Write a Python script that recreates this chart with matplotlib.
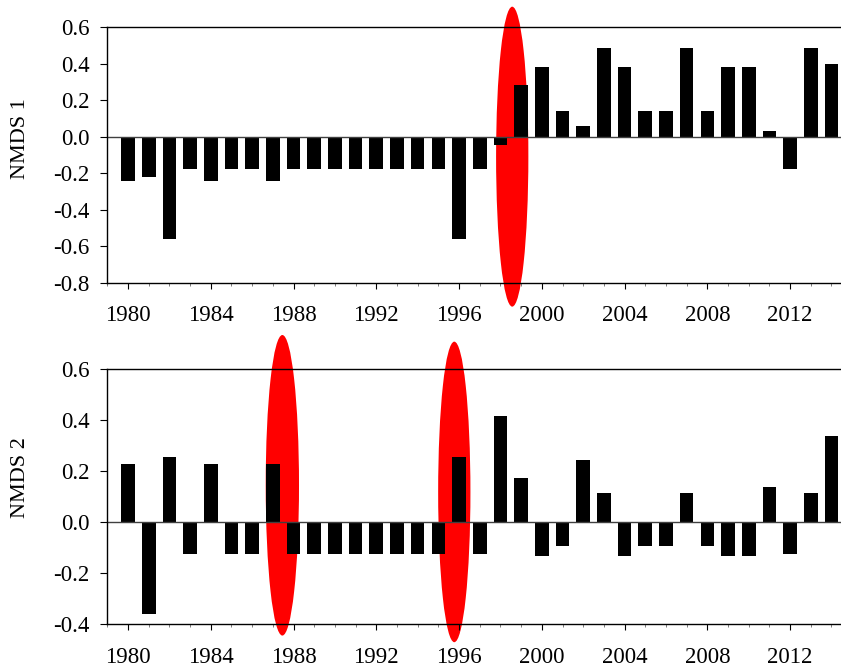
import matplotlib
matplotlib.use("Agg")
import matplotlib.pyplot as plt
import matplotlib.ticker as ticker
from matplotlib.patches import Ellipse
import numpy as np

plt.rcParams['font.family'] = ['Liberation Serif', 'DejaVu Serif']
plt.rcParams['axes.unicode_minus'] = False

years = list(range(1980, 2015))

# NMDS axis 1 scores
nmds1 = [-0.24, -0.22, -0.56, -0.175, -0.24, -0.175, -0.175, -0.24,
         -0.175, -0.175, -0.175, -0.175, -0.175, -0.175, -0.175, -0.175,
         -0.56, -0.175, -0.047, 0.284, 0.381, 0.139, 0.058, 0.483,
         0.381, 0.139, 0.139, 0.483, 0.139, 0.381, 0.381, 0.031,
         -0.175, 0.483, 0.399]

# NMDS axis 2 scores
nmds2 = [0.227, -0.361, 0.253, -0.125, 0.227, -0.125, -0.125, 0.227,
         -0.125, -0.125, -0.125, -0.125, -0.125, -0.125, -0.125, -0.125,
         0.253, -0.125, 0.417, 0.173, -0.132, -0.093, 0.243, 0.112,
         -0.132, -0.093, -0.093, 0.112, -0.093, -0.132, -0.132, 0.137,
         -0.125, 0.112, 0.336]

xticks = [1980, 1984, 1988, 1992, 1996, 2000, 2004, 2008, 2012]
yticks1 = [-0.8, -0.6, -0.4, -0.2, 0.0, 0.2, 0.4, 0.6]
yticks2 = [-0.4, -0.2, 0.0, 0.2, 0.4, 0.6]

# red highlight ellipses: (year, y centre, width in years, height in data units)
marks1 = [(1998.57, -0.109, 1.56, 1.64)]
marks2 = [(1987.46, 0.144, 1.61, 1.176), (1995.77, 0.118, 1.56, 1.176)]


def style_axis(ax, yticks, ylabel, label_y):
    ax.set_xlim(1979, 2014.46)
    ax.set_ylim(yticks[0], yticks[-1])
    ax.set_xticks(xticks)
    ax.xaxis.set_minor_locator(ticker.MultipleLocator(1))
    ax.set_yticks(yticks)
    ax.yaxis.set_major_formatter(ticker.FormatStrFormatter('%.1f'))
    ax.tick_params(axis='x', which='major', direction='out', length=4,
                   width=0.8, pad=12, labelsize=16.5)
    ax.tick_params(axis='x', which='minor', direction='out', length=2,
                   width=0.6, color='0.4')
    ax.tick_params(axis='y', direction='out', length=5, width=0.8,
                   pad=8, labelsize=16.5)
    ax.spines['right'].set_visible(False)
    for s in ['left', 'bottom', 'top']:
        ax.spines[s].set_linewidth(1.0)
    ax.axhline(0, color='0.25', lw=1.0, zorder=2.5)
    ax.text(-0.118, label_y, ylabel, transform=ax.transAxes, rotation=90,
            ha='center', va='center', fontsize=16)


def draw_panel(ax, vals, marks):
    for x, yc, w, h in marks:
        ax.add_patch(Ellipse((x, yc), w, h, facecolor='red', edgecolor='none',
                             clip_on=False, zorder=0.5))
    ax.bar(years, vals, width=0.66, color='black', zorder=2)


fig = plt.figure(figsize=(8.41, 6.68), dpi=100)
ax1 = fig.add_axes([0.1276, 0.5763, 0.8724, 0.3833])
ax2 = fig.add_axes([0.1276, 0.0654, 0.8724, 0.3826])

draw_panel(ax1, nmds1, marks1)
style_axis(ax1, yticks1, 'NMDS 1', 0.5625)

draw_panel(ax2, nmds2, marks2)
style_axis(ax2, yticks2, 'NMDS 2', 0.574)

fig.savefig('out.png', dpi=100)
